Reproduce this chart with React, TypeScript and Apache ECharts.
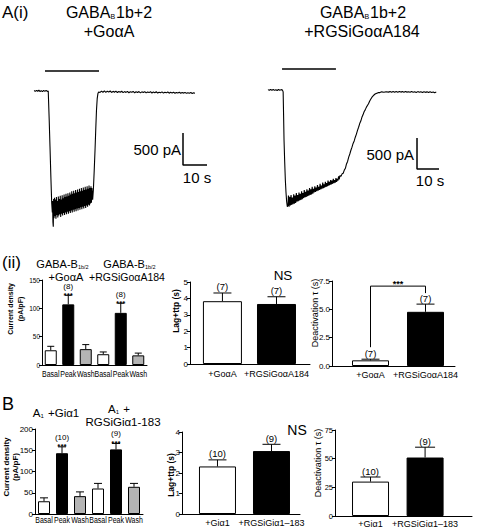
import React, { useEffect, useRef } from "react";
import * as echarts from "echarts";

const FONT = "'Liberation Sans', Arial, Helvetica, sans-serif";

// ---------- Panel A(i): current traces, [time (s), current (pA)] ----------
const GOA_TRACE: number[][] = [
  [1.7, 8], [2.2, -6], [2.7, 10], [3.2, -4], [3.7, 12], [4.2, -8], [4.7, 6], [5.2, -10], [5.7, 9], [6.2, -5], [6.7, 11], [7.2, -7], [7.6, 0],
  [8.0, -450], [8.33, -870], [8.7, -1350], [9.04, -1753], [9.3, -1900],
  [9.4, -1720], [9.55, -2050], [9.7, -2124], [9.85, -1690], [10.0, -1990], [10.2, -1670], [10.4, -1960], [10.6, -1700], [10.8, -2000], [11.0, -1660],
  [11.2, -1940], [11.4, -1720], [11.6, -1980], [11.8, -1650], [12.0, -1950], [12.2, -1690], [12.4, -1930], [12.6, -1640], [12.8, -1970], [13.0, -1700],
  [13.2, -1920], [13.4, -1630], [13.6, -1950], [13.8, -1680], [14.0, -1910], [14.2, -1620], [14.4, -1940], [14.6, -1660], [14.8, -1900], [15.0, -1610],
  [15.2, -1930], [15.4, -1650], [15.6, -1890], [15.8, -1600], [16.0, -1920], [16.2, -1640], [16.4, -1880], [16.6, -1590], [16.8, -1910], [17.0, -1620],
  [17.2, -1870], [17.4, -1570], [17.6, -1900], [17.8, -1610], [18.0, -1860], [18.2, -1560], [18.4, -1890], [18.6, -1600], [18.8, -1850], [19.0, -1550],
  [19.2, -1880], [19.4, -1590], [19.6, -1840], [19.8, -1540], [20.0, -1870], [20.2, -1580], [20.4, -1830], [20.6, -1530], [20.8, -1860], [21.0, -1570],
  [21.2, -1820], [21.4, -1520], [21.6, -1850], [21.8, -1560], [22.0, -1810], [22.2, -1510], [22.4, -1840], [22.6, -1550], [22.8, -1800], [23.0, -1500],
  [23.2, -1830], [23.4, -1540], [23.6, -1790], [23.8, -1490], [24.0, -1810], [24.2, -1530], [24.4, -1780], [24.6, -1480], [24.8, -1790], [25.0, -1520],
  [25.2, -1760], [25.4, -1490], [25.6, -1750], [25.8, -1520],
  [26.1, -1700], [26.4, -1550], [26.75, -1250], [27.1, -920], [27.4, -600], [27.7, -300], [28.0, -120], [28.3, -40], [28.6, -15],
  [29.2, -23], [29.8, -1], [30.4, -19], [31, 1], [31.6, -21], [32.2, -3], [32.8, -17], [33.4, 0], [34, -23], [34.6, -5], [35.2, -20], [35.8, -2],
  [36.4, -24], [37, -7], [37.6, -19], [38.2, -4], [38.8, -25], [39.4, -9], [40, -22], [40.6, -6], [41.2, -27], [41.8, -10], [42.4, -21], [43, -7],
  [43.6, -28], [44.2, -12], [44.8, -23], [45.4, -9], [46, -29], [46.6, -13], [47.2, -24], [47.8, -10], [48.4, -30], [49, -15], [49.6, -25], [50.2, -11],
  [50.8, -31], [51.4, -17], [52, -26], [52.6, -12], [53.2, -32], [53.8, -19], [54.4, -27], [55, -14], [55.6, -33], [56.2, -20], [56.8, -29], [57.4, -15],
  [58, -34], [58.6, -21], [59.2, -30], [59.8, -18], [60.4, -35], [61, -23], [61.6, -31], [62.2, -20], [62.8, -36], [63.4, -25], [64, -33], [64.6, -22],
  [65.2, -37], [65.8, -27], [66.4, -35], [67, -24], [67.6, -39], [68.2, -29], [68.75, -35],
];

const RGS_TRACE: number[][] = [
  [1.8, 6], [2.4, -5], [3, 9], [3.6, -3], [4.2, 8], [4.8, -6], [5.4, 5], [6, -8], [6.6, 7], [7.2, -4], [7.8, 6], [8.4, -2], [8.7, -30],
  [8.9, -400], [9.1, -800], [9.4, -1150], [9.7, -1450], [10.0, -1650], [10.3, -1800], [10.6, -1880], [10.9, -1860],
  [11.1, -1700], [11.4, -1880], [11.7, -1720], [12.0, -1860], [12.3, -1690], [12.6, -1850], [12.9, -1730], [13.2, -1840], [13.5, -1680], [13.8, -1830],
  [14.1, -1700], [14.4, -1820], [14.7, -1660], [15.0, -1800], [15.3, -1690], [15.6, -1790], [15.9, -1650], [16.2, -1780], [16.5, -1670], [16.8, -1770],
  [17.1, -1630], [17.4, -1760], [17.7, -1660], [18.0, -1740], [18.3, -1610], [18.6, -1730], [18.9, -1640], [19.2, -1720], [19.5, -1600], [19.8, -1710],
  [20.1, -1620], [20.4, -1700], [20.7, -1580], [21.0, -1690], [21.3, -1600], [21.6, -1680], [21.9, -1560], [22.2, -1670], [22.5, -1590], [22.8, -1650],
  [23.1, -1550], [23.4, -1640], [23.7, -1570], [24.0, -1630], [24.3, -1530], [24.6, -1620], [24.9, -1560], [25.2, -1610], [25.5, -1510], [25.8, -1600],
  [26.1, -1540], [26.4, -1590], [26.7, -1490], [27.0, -1580], [27.3, -1520], [27.6, -1570], [27.9, -1480], [28.2, -1560], [28.5, -1500], [28.8, -1550],
  [29.1, -1460], [29.4, -1540], [29.7, -1480], [30.0, -1530], [30.3, -1450], [30.6, -1520], [30.9, -1460], [31.2, -1510], [31.5, -1430], [31.8, -1500],
  [32.1, -1450], [32.4, -1490], [32.7, -1420], [33.0, -1480], [33.3, -1430], [33.6, -1460], [33.9, -1390], [34.2, -1440], [34.5, -1380],
  [35.0, -1390], [35.5, -1350], [36.0, -1340], [36.5, -1290], [37.0, -1260], [37.5, -1190], [38.0, -1150], [38.5, -1080], [39.0, -1030], [39.5, -970],
  [40.0, -920], [40.5, -860], [41.0, -820], [41.5, -760], [42.0, -710], [42.5, -650], [43.0, -600], [43.5, -540], [44.0, -500], [44.5, -440],
  [45.0, -400], [45.5, -350], [46.0, -320], [46.5, -280], [47.0, -250], [47.5, -220], [48.0, -180], [48.5, -150], [49.0, -120], [49.5, -100],
  [50.0, -80], [50.5, -65], [51.0, -55], [51.5, -50], [52.0, -40], [52.7, -42], [53.5, -30], [54.5, -36], [55.5, -28], [56.5, -34],
  [57.3, -26], [58, -38], [58.7, -25], [59.4, -36], [60.1, -24], [60.8, -35], [61.5, -23], [62.2, -34], [62.9, -26], [63.6, -37], [64.3, -25], [65, -34],
  [65.7, -27], [66.4, -38], [67.1, -25], [67.8, -35], [68.5, -28], [69.2, -39], [69.9, -26], [70.6, -37], [71.3, -29], [72, -40], [72.7, -27], [73.4, -38],
  [74.1, -30], [74.8, -41], [75.5, -28], [76.2, -39], [76.9, -31], [77.6, -43], [78.3, -33], [78.6, -37],
];

// agonist application bars: [start s, end s, level pA]
const GOA_APPLICATION = [6.25, 28.75, 313];
const RGS_APPLICATION = [8.2, 32.7, 338];
// scale bars
const SCALE_TIME_S = 10;
const SCALE_CURRENT_PA = 500;
const GOA_SCALE_CORNER = [63.75, -1158];
const RGS_SCALE_CORNER = [69.55, -1272];

// ---------- Panel A(ii) ----------
const CD_CATEGORIES = ["Basal", "Peak", "Wash", "Basal", "Peak", "Wash"];
const CD_FILLS = ["#ffffff", "#000000", "#b4b4b4", "#ffffff", "#000000", "#b4b4b4"];
const A_CD_MEAN = [26, 107, 28, 19, 92, 17];
const A_CD_SEM = [7, 16, 8, 4, 17, 4];
const A_CD_N = ["", "(8)", "", "", "(8)", ""];
const A_CD_SIG = ["", "***", "", "", "***", ""];

const PAIR_FILLS = ["#ffffff", "#000000"];
const A_GROUPS = ["+GoαA", "+RGSiGoαA184"];
const A_LAG_MEAN = [3.83, 3.66];
const A_LAG_SEM = [0.5, 0.44];
const A_LAG_N = ["(7)", "(7)"];
const A_TAU_MEAN = [0.5, 4.78];
const A_TAU_SEM = [0.1, 0.68];
const A_TAU_N = ["(7)", "(7)"];

// ---------- Panel B ----------
const B_CD_MEAN = [30, 143, 42, 60, 152, 64];
const B_CD_SEM = [8, 15, 10, 12, 14, 8];
const B_CD_N = ["", "(10)", "", "", "(9)", ""];
const B_CD_SIG = ["", "***", "", "", "***", ""];
const B_GROUPS = ["+Giα1", "+RGSiGiα1–183"];
const B_LAG_MEAN = [2.32, 3.07];
const B_LAG_SEM = [0.32, 0.33];
const B_LAG_N = ["(10)", "(9)"];
const B_TAU_MEAN = [30, 51];
const B_TAU_SEM = [4, 9];
const B_TAU_N = ["(10)", "(9)"];

type Any = any;

function txt(x: number, y: number, text: string, size: number, o: Any = {}): Any {
  return {
    type: "text",
    x,
    y,
    rotation: o.rotation || 0,
    silent: true,
    style: {
      text,
      fill: "#000",
      fontSize: size,
      fontFamily: FONT,
      fontWeight: o.weight || "normal",
      align: o.align || "center",
      verticalAlign: "middle",
      lineHeight: o.lineHeight,
      rich: o.rich,
    },
  };
}

function subRich(main: number, sub: number): Any {
  return {
    m: { fontSize: main, fontFamily: FONT, fill: "#000" },
    s: { fontSize: sub, fontFamily: FONT, fill: "#000", verticalAlign: "bottom", padding: [0, 1, 0, 0] },
  };
}

function App() {
  const ref = useRef<HTMLDivElement>(null);

  useEffect(() => {
    if (!ref.current) return;
    const chart = echarts.init(ref.current, undefined, { renderer: "svg" });

    const grids: Any[] = [
      { left: 30, top: 60, width: 190, height: 180 }, // 0 trace GoA
      { left: 264, top: 60, width: 200, height: 180 }, // 1 trace RGS
      { left: 42, top: 280, width: 105, height: 85 }, // 2 A current density
      { left: 190, top: 282, width: 120, height: 82 }, // 3 A lag
      { left: 332, top: 281, width: 123, height: 85 }, // 4 A tau
      { left: 35, top: 429, width: 108, height: 85 }, // 5 B current density
      { left: 182, top: 432, width: 118, height: 82 }, // 6 B lag
      { left: 335, top: 430, width: 137, height: 86 }, // 7 B tau
    ].map((g) => ({ ...g, containLabel: false, outerBoundsMode: "none", show: false }));

    const hiddenAxis = (g: number, min: number, max: number): Any => ({
      type: "value", gridIndex: g, min, max, show: false,
    });

    const catX = (g: number): Any => ({
      type: "category",
      gridIndex: g,
      data: CD_CATEGORIES,
      axisLine: { show: true, lineStyle: { color: "#000", width: 1 } },
      axisTick: { show: false },
      axisLabel: { show: false },
      splitLine: { show: false },
    });

    const pairX = (g: number, min: number, max: number, groups: string[], margin: number): Any => ({
      type: "value",
      gridIndex: g,
      min,
      max,
      axisLine: { show: true, onZero: false, lineStyle: { color: "#000", width: 1 } },
      axisTick: { show: false },
      axisLabel: {
        customValues: [1, 2],
        formatter: (v: number) => groups[Math.round(v) - 1] || "",
        fontSize: 9,
        fontFamily: FONT,
        color: "#000",
        margin,
        showMinLabel: true,
        showMaxLabel: true,
      },
      splitLine: { show: false },
    });

    const barY = (g: number, max: number, interval: number, fontSize: number, fmt?: (v: number) => string): Any => ({
      type: "value",
      gridIndex: g,
      min: 0,
      max,
      interval,
      axisLine: { show: true, onZero: false, lineStyle: { color: "#000", width: 1 } },
      axisTick: { show: true, length: 3, lineStyle: { color: "#000", width: 1 } },
      axisLabel: { fontSize, fontFamily: FONT, color: "#000", margin: 2, formatter: fmt },
      splitLine: { show: false },
    });

    const xAxis: Any[] = [
      hiddenAxis(0, 0, 190 / 2.4),
      hiddenAxis(1, 0, 200 / 2.2),
      catX(2),
      pairX(3, 0.4, 2.62, A_GROUPS, 5),
      pairX(4, 0.3, 2.536, A_GROUPS, 4),
      catX(5),
      pairX(6, 0.343, 2.528, B_GROUPS, 4),
      pairX(7, 0.349, 2.86, B_GROUPS, 3),
    ];

    const yAxis: Any[] = [
      hiddenAxis(0, -149 * 15.65, 31 * 15.65),
      hiddenAxis(1, -150 * 16.1, 30 * 16.1),
      barY(2, 150, 50, 6.5),
      barY(3, 5, 1, 8),
      barY(4, 7.5, 2.5, 8, (v: number) => v.toFixed(1)),
      barY(5, 200, 50, 8),
      barY(6, 4, 1, 8),
      barY(7, 75, 25, 7.5),
    ];

    const lineSeries = (g: number, data: number[][], width: number): Any => ({
      type: "line",
      xAxisIndex: g,
      yAxisIndex: g,
      data,
      symbol: "none",
      silent: true,
      lineStyle: { color: "#000", width },
    });

    const scaleBar = (g: number, c: number[]): Any =>
      lineSeries(g, [[c[0], c[1] + SCALE_CURRENT_PA], [c[0], c[1]], [c[0] + SCALE_TIME_S, c[1]]], 1.5);

    const appBar = (g: number, a: number[]): Any => lineSeries(g, [[a[0], a[2]], [a[1], a[2]]], 1.6);

    // condensed category labels (Basal / Peak / Wash), placed through the category axis
    const catLabels = (g: number, dy: number): Any => ({
      type: "custom",
      xAxisIndex: g,
      yAxisIndex: g,
      silent: true,
      data: CD_CATEGORIES.map((_c, i) => [i, 0]),
      renderItem: (params: Any, api: Any) => {
        const p = api.coord([api.value(0), 0]);
        return {
          type: "text",
          x: p[0],
          y: p[1] + dy,
          scaleX: 0.74,
          style: {
            text: CD_CATEGORIES[params.dataIndex],
            fill: "#000",
            fontSize: 9.5,
            fontFamily: FONT,
            align: "center",
            verticalAlign: "middle",
          },
        };
      },
    });

    const bars = (g: number, means: number[], fills: string[], width: number, cat: boolean): Any => ({
      type: "bar",
      xAxisIndex: g,
      yAxisIndex: g,
      barWidth: width,
      silent: true,
      data: means.map((m, i) => ({
        value: cat ? m : [i + 1, m],
        itemStyle: { color: fills[i], borderColor: "#000", borderWidth: 1 },
      })),
    });

    const errors = (
      g: number, means: number[], sems: number[], ns: string[], sigs: string[] | null,
      cat: boolean, capW: number, nSize: number, nOff: number, sigOff: number
    ): Any => ({
      type: "custom",
      xAxisIndex: g,
      yAxisIndex: g,
      z: 5,
      silent: true,
      data: means.map((m, i) => [cat ? i : i + 1, m, sems[i]]),
      renderItem: (params: Any, api: Any) => {
        const i = params.dataIndex;
        const x = api.value(0);
        const m = api.value(1);
        const e = api.value(2);
        const p0 = api.coord([x, m]);
        const p1 = api.coord([x, m + e]);
        const children: Any[] = [
          { type: "line", shape: { x1: p0[0], y1: p0[1], x2: p1[0], y2: p1[1] }, style: { stroke: "#000", lineWidth: 1 } },
          { type: "line", shape: { x1: p1[0] - capW / 2, y1: p1[1], x2: p1[0] + capW / 2, y2: p1[1] }, style: { stroke: "#000", lineWidth: 1 } },
        ];
        if (sigs && sigs[i]) {
          children.push({
            type: "text", x: p1[0], y: p1[1] - sigOff,
            style: { text: sigs[i], fill: "#000", fontSize: nSize, fontWeight: "bold", fontFamily: FONT, align: "center", verticalAlign: "middle" },
          });
        }
        if (ns[i]) {
          children.push({
            type: "text", x: p1[0], y: p1[1] - nOff,
            style: { text: ns[i], fill: "#000", fontSize: nSize, fontFamily: FONT, align: "center", verticalAlign: "middle" },
          });
        }
        return { type: "group", children };
      },
    });

    const bracket: Any = {
      type: "custom",
      xAxisIndex: 4,
      yAxisIndex: 4,
      z: 6,
      silent: true,
      data: [[1, 0]],
      renderItem: (_p: Any, api: Any) => {
        const c1 = api.coord([1, A_TAU_MEAN[0] + A_TAU_SEM[0]]);
        const c2 = api.coord([2, A_TAU_MEAN[1] + A_TAU_SEM[1]]);
        const top = Math.min(c1[1], c2[1]) - 18;
        return {
          type: "group",
          children: [
            {
              type: "polyline",
              shape: { points: [[c1[0], c1[1] - 12], [c1[0], top], [c2[0], top], [c2[0], c2[1] - 11]] },
              style: { stroke: "#000", fill: "none", lineWidth: 1 },
            },
            {
              type: "text", x: (c1[0] + c2[0]) / 2, y: top - 2,
              style: { text: "***", fill: "#000", fontSize: 9, fontWeight: "bold", fontFamily: FONT, align: "center", verticalAlign: "middle" },
            },
          ],
        };
      },
    };

    const series: Any[] = [
      lineSeries(0, GOA_TRACE, 1.1),
      lineSeries(1, RGS_TRACE, 1.1),
      appBar(0, GOA_APPLICATION),
      appBar(1, RGS_APPLICATION),
      scaleBar(0, GOA_SCALE_CORNER),
      scaleBar(1, RGS_SCALE_CORNER),
      bars(2, A_CD_MEAN, CD_FILLS, 12, true),
      errors(2, A_CD_MEAN, A_CD_SEM, A_CD_N, A_CD_SIG, true, 7, 8, 8.5, 0),
      catLabels(2, 9),
      bars(3, A_LAG_MEAN, PAIR_FILLS, 39, false),
      errors(3, A_LAG_MEAN, A_LAG_SEM, A_LAG_N, null, false, 18, 9.5, 6.5, 0),
      bars(4, A_TAU_MEAN, PAIR_FILLS, 37, false),
      errors(4, A_TAU_MEAN, A_TAU_SEM, A_TAU_N, null, false, 18, 9.5, 6, 0),
      bracket,
      bars(5, B_CD_MEAN, CD_FILLS, 12, true),
      errors(5, B_CD_MEAN, B_CD_SEM, B_CD_N, B_CD_SIG, true, 8, 8, 9.5, 0),
      catLabels(5, 6),
      bars(6, B_LAG_MEAN, PAIR_FILLS, 37, false),
      errors(6, B_LAG_MEAN, B_LAG_SEM, B_LAG_N, null, false, 18, 9.5, 6, 0),
      bars(7, B_TAU_MEAN, PAIR_FILLS, 37, false),
      errors(7, B_TAU_MEAN, B_TAU_SEM, B_TAU_N, null, false, 20, 9.5, 6, 0),
    ];

    const R = Math.PI / 2;
    const graphic: Any[] = [
      // Panel A(i)
      txt(2, 12, "A(i)", 17, { align: "left" }),
      txt(109, 12, "{m|GABA}{s|B}{m|1b+2}", 16, { rich: subRich(16, 7) }),
      txt(109, 31, "+GoαA", 16),
      txt(363, 12, "{m|GABA}{s|B}{m|1b+2}", 16, { rich: subRich(16, 7) }),
      txt(362, 31, "+RGSiGoαA184", 16),
      txt(181, 149, "500 pA", 15, { align: "right" }),
      txt(197, 177, "10 s", 15),
      txt(414, 154, "500 pA", 15, { align: "right" }),
      txt(430, 180, "10 s", 15),
      // Panel A(ii)
      txt(2, 262, "(ii)", 17, { align: "left" }),
      txt(63, 264, "{m|GABA-B}{s|1b/2}", 11, { rich: subRich(11, 5.5) }),
      txt(66, 277, "+GoαA", 11),
      txt(130, 264, "{m|GABA-B}{s|1b/2}", 11, { rich: subRich(11, 5.5) }),
      txt(127, 277, "+RGSiGoαA184", 10.5),
      txt(15, 309, "Current density\n(pA/pF)", 7, { weight: "bold", rotation: R, lineHeight: 10 }),
      txt(176, 311, "Lag+ttp (s)", 8.5, { weight: "bold", rotation: R }),
      txt(315, 313, "Deactivation τ (s)", 9, { rotation: R }),
      txt(283, 275, "NS", 13.5),
      // Panel B
      txt(2, 404, "B", 18, { align: "left" }),
      txt(56, 413, "{m|A}{s|1}{m| +Giα1}", 11.5, { rich: subRich(11.5, 6) }),
      txt(119, 409, "{m|A}{s|1}{m| +}", 11.5, { rich: subRich(11.5, 6) }),
      txt(123, 422, "RGSiGiα1-183", 11.5),
      txt(11, 467, "Current density\n(pA/pF)", 8, { weight: "bold", rotation: R, lineHeight: 8.5 }),
      txt(171, 475, "Lag+ttp (s)", 8.5, { weight: "bold", rotation: R }),
      txt(318, 463, "Deactivation τ (s)", 9, { rotation: R }),
      txt(297, 430, "NS", 14),
    ];

    chart.setOption({
      animation: false,
      backgroundColor: "#ffffff",
      textStyle: { fontFamily: FONT },
      grid: grids,
      xAxis,
      yAxis,
      series,
      graphic,
    });

    return () => chart.dispose();
  }, []);

  return (
    <div
      ref={ref}
      style={{ position: "absolute", left: 0, top: 0, width: 480, height: 530, background: "#fff" }}
    />
  );
}

export default App;
